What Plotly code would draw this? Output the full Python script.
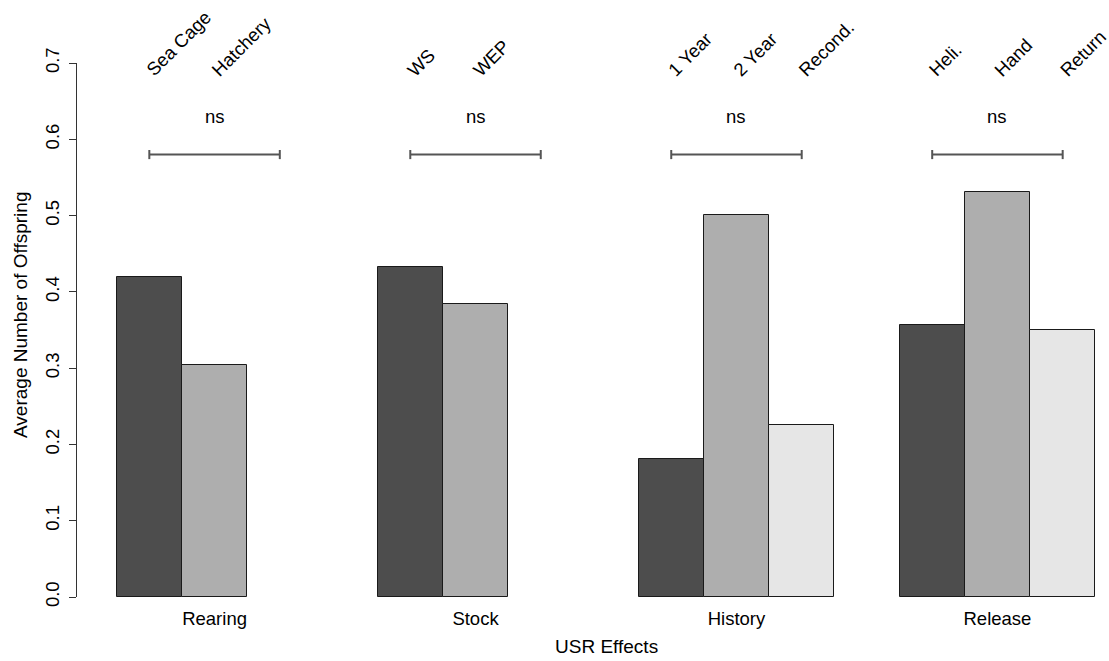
import plotly.graph_objects as go

# Grouped means: up to three levels per factor
groups = ["Rearing", "Stock", "History", "Release"]
level_labels = [
    ["Sea Cage", "Hatchery"],
    ["WS", "WEP"],
    ["1 Year", "2 Year", "Recond."],
    ["Heli.", "Hand", "Return"],
]
level1 = [0.420, 0.433, 0.181, 0.357]
level2 = [0.304, 0.384, 0.501, 0.531]
level3 = [None, None, 0.225, 0.350]
sig_labels = ["ns", "ns", "ns", "ns"]

fills = ["#4D4D4D", "#AEAEAE", "#E6E6E6"]
FONT = "Liberation Sans, Arial, Helvetica, sans-serif"

# barplot(beside=TRUE) layout: each group = 1 gap + 3 unit-wide bars
def bar_center(g, k):
    return 4 * g + 1.5 + k

series = [level1, level2, level3]
fig = go.Figure()
for k, vals in enumerate(series):
    xs, ys = [], []
    for g, v in enumerate(vals):
        if v is not None:
            xs.append(bar_center(g, k))
            ys.append(v)
    fig.add_trace(go.Bar(
        x=xs, y=ys, width=1.0,
        marker=dict(color=fills[k], line=dict(color="#1a1a1a", width=1)),
        showlegend=False, hoverinfo="y",
    ))

annotations = []
shapes = []
for g in range(len(groups)):
    # level names written at 45 degrees above each bar
    for k, lab in enumerate(level_labels[g]):
        annotations.append(dict(
            x=bar_center(g, k), y=0.684, xref="x", yref="y",
            text=lab, textangle=-45, showarrow=False,
            xanchor="left", yanchor="bottom", xshift=-10, yshift=-8,
            font=dict(family=FONT, size=18.5, color="#000"),
        ))
    # significance bracket spanning the group's outer bars
    x0, x1 = bar_center(g, 0), bar_center(g, 2)
    yb = 0.58
    shapes.append(dict(type="line", xref="x", yref="y", x0=x0, x1=x1, y0=yb, y1=yb,
                       line=dict(color="#555", width=2)))
    for xe in (x0, x1):
        shapes.append(dict(type="line", xref="x", yref="y", x0=xe, x1=xe,
                           y0=yb - 0.006, y1=yb + 0.006, line=dict(color="#555", width=2)))
    annotations.append(dict(
        x=(x0 + x1) / 2, y=0.63, xref="x", yref="y", text=sig_labels[g],
        showarrow=False, font=dict(family=FONT, size=18.5, color="#000"),
    ))

annotations.append(dict(
    x=8.5, y=-0.0936, xref="x", yref="paper", text="USR Effects", showarrow=False,
    xanchor="center", yanchor="middle", borderpad=0,
    font=dict(family=FONT, size=19, color="#000"),
))
annotations.append(dict(
    x=-0.055, y=0.37, xref="paper", yref="y", text="Average Number of Offspring",
    textangle=-90, showarrow=False, xanchor="center", yanchor="middle",
    font=dict(family=FONT, size=19, color="#000"),
))

fig.update_layout(
    width=1109, height=661,
    margin=dict(l=77, r=0, t=63, b=64),
    paper_bgcolor="white", plot_bgcolor="white",
    bargap=0, barmode="overlay",
    annotations=annotations, shapes=shapes,
    font=dict(family=FONT, size=18.5, color="#000"),
    xaxis=dict(
        range=[0.3915, 16.21], showline=False, showgrid=False, zeroline=False,
        tickmode="array", tickvals=[bar_center(g, 1) for g in range(4)],
        ticktext=groups, ticks="", ticklabelstandoff=8,
        tickfont=dict(family=FONT, size=18.5, color="#000"),
    ),
    yaxis=dict(
        range=[0, 0.7], showline=True, linecolor="#333", linewidth=1,
        showgrid=False, zeroline=False,
        ticks="outside", ticklen=7, tickcolor="#333", tickwidth=1,
        dtick=0.1, tick0=0, tickformat=".1f", tickangle=-90,
        ticklabelstandoff=3,
        tickfont=dict(family=FONT, size=18.5, color="#000"),
    ),
)

fig.write_html("out.html")
